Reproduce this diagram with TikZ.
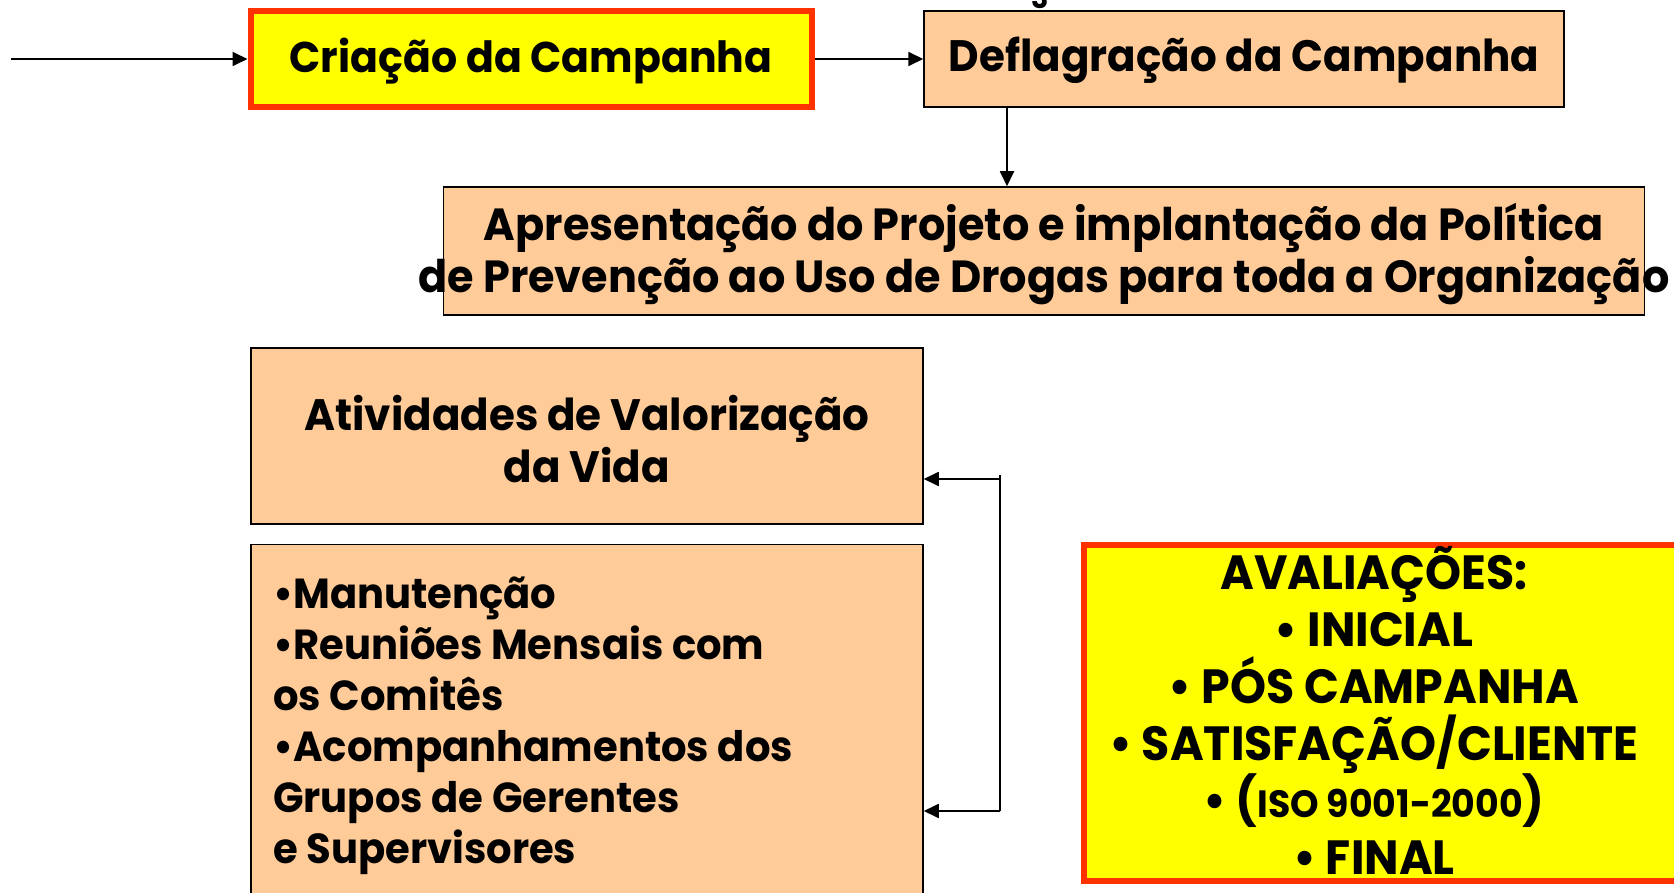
\documentclass[tikz,border=0pt]{standalone}
\usepackage{fontspec}
\setmainfont{Poppins}[FakeStretch=0.955]
\usetikzlibrary{arrows.meta,positioning}
\definecolor{pessego}{HTML}{FFCC99}
\definecolor{rubro}{HTML}{FF3300}
\definecolor{amarelo}{HTML}{FFFF00}

\begin{document}
\begin{tikzpicture}[x=1pt,y=-1pt,
    etapa/.style={draw=black,line width=1.5pt,fill=pessego,inner sep=0pt},
    destaque/.style={draw=rubro,line width=6pt,fill=amarelo,inner sep=0pt},
    texto/.style={font=\bfseries\fontsize{43}{52}\selectfont,align=center,inner sep=0pt},
    seta/.style={line width=1.8pt,-{Triangle[length=15pt,width=14pt]}}]
  \useasboundingbox (0,0) rectangle (1674,893);

  \node[destaque,minimum width=561pt,minimum height=96pt] (criacao) at (531,59) {};
  \node[etapa,minimum width=640pt,minimum height=96pt] (deflag) at (1244,59) {};
  \node[etapa,minimum width=1201pt,minimum height=128pt] (apres) at (1044,251) {};
  \node[etapa,minimum width=672pt,minimum height=176pt] (valor) at (587,436) {};
  \node[etapa,minimum width=672pt,minimum height=365pt] (manut) at (587,727) {};
  \node[destaque,minimum width=606pt,minimum height=336pt] (aval) at (1387,713) {};

  \node[texto] (tcriacao) at (531,61) {Criação da Campanha};
  \node[texto,font=\bfseries\fontsize{44}{52}\selectfont] (tdeflag) at (1244,60) {Deflagração da Campanha};
  \node[texto,font=\bfseries\fontsize{45}{52}\selectfont] (tapres) at (1044,254)
    {Apresentação do Projeto e implantação da Política\\de Prevenção ao Uso de Drogas para toda a Organização};
  \node[texto,font=\bfseries\fontsize{44}{52}\selectfont] (tvalor) at (587,439) {Atividades de Valorização\\da Vida};
  \node[texto,align=left,anchor=west,font=\bfseries\fontsize{42}{51}\selectfont] (tmanut) at (273,726)
    {•Manutenção\\•Reuniões Mensais com\\os Comitês\\•Acompanhamentos dos\\Grupos de Gerentes\\e Supervisores};
  \node[texto,font=\bfseries\fontsize{48}{57}\selectfont] (taval) at (1374,710)
    {AVALIAÇÕES:\\• INICIAL\\• PÓS CAMPANHA\\• SATISFAÇÃO/CLIENTE\\• ({\fontsize{38}{40}\selectfont ISO 9001-2000})\\• FINAL};
  \node[font=\bfseries\fontsize{30}{36}\selectfont,anchor=base,inner sep=0pt] (pagina) at (1040,9) {3};

  \coordinate (inicio) at (11,59);
  \coordinate (desce) at (1007,0);
  \coordinate (topo) at (1000,475);
  \coordinate (r1) at (1000,479);
  \coordinate (r2) at (1000,811);

  \draw[seta] (inicio) -- (criacao.west);
  \draw[seta] (criacao.east) -- (deflag.west);
  \draw[seta] (desce |- deflag.south) -- (desce |- apres.north);
  \draw[line width=1.8pt] (topo) -- (r2);
  \draw[seta] (r1) -- (r1 -| valor.east);
  \draw[seta] (r2) -- (r2 -| manut.east);
\end{tikzpicture}
\end{document}
